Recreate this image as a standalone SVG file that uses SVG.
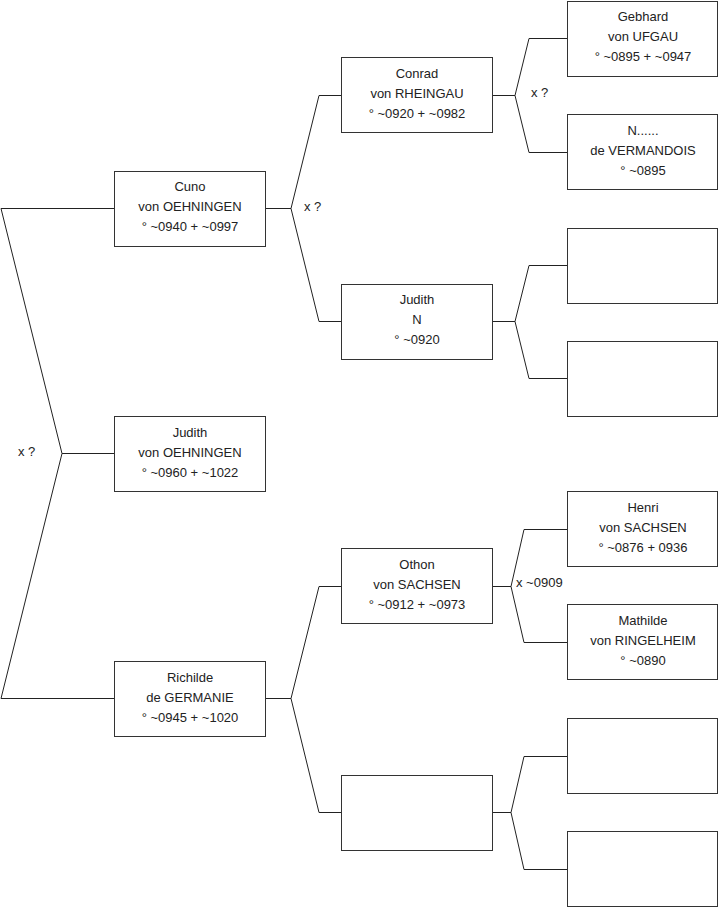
<svg xmlns="http://www.w3.org/2000/svg" width="719" height="908" viewBox="0 0 719 908">
<style>
.box{fill:#fff;stroke:#333;stroke-width:1}
.ln{fill:none;stroke:#222;stroke-width:1}
text{font-family:"Liberation Sans",Arial,sans-serif;font-size:13px;fill:#222}
.c{text-anchor:middle}
</style>
<rect width="719" height="908" fill="#fff"/>
<g id="connectors">
<polyline class="ln" points="114,208.5 1,208.5 62,453.5 1,698.5 114,698.5"/>
<line class="ln" x1="62" y1="453.5" x2="114" y2="453.5"/>
<polyline class="ln" points="265,208.5 291,208.5"/>
<polyline class="ln" points="341,95.5 319,95.5 291,208.5 319,321.5 341,321.5"/>
<polyline class="ln" points="265,698.5 291,698.5"/>
<polyline class="ln" points="341,586.5 319,586.5 291,698.5 319,812.5 341,812.5"/>
<polyline class="ln" points="492,95.5 515,95.5"/>
<polyline class="ln" points="567,38.5 529,38.5 515,95.5 529,152.5 567,152.5"/>
<polyline class="ln" points="492,321.5 515,321.5"/>
<polyline class="ln" points="567,265.5 529,265.5 515,321.5 529,378.5 567,378.5"/>
<polyline class="ln" points="492,586.5 511,586.5"/>
<polyline class="ln" points="567,529.5 524,529.5 511,586.5 524,642.5 567,642.5"/>
<polyline class="ln" points="492,812.5 511,812.5"/>
<polyline class="ln" points="567,756.5 524,756.5 511,812.5 524,869.5 567,869.5"/>
<text x="18" y="456">x ?</text>
<text x="304" y="211">x ?</text>
<text x="531" y="97">x ?</text>
<text x="516" y="587">x ~0909</text>
</g>
<g id="cuno"><rect class="box" x="114.5" y="171.5" width="151" height="75"/>
<text class="c" x="190" y="191">Cuno</text><text class="c" x="190" y="211">von OEHNINGEN</text><text class="c" x="190" y="231">° ~0940 + ~0997</text></g>
<g id="judith1"><rect class="box" x="114.5" y="416.5" width="151" height="75"/>
<text class="c" x="190" y="437">Judith</text><text class="c" x="190" y="457">von OEHNINGEN</text><text class="c" x="190" y="477">° ~0960 + ~1022</text></g>
<g id="richilde"><rect class="box" x="114.5" y="661.5" width="151" height="75"/>
<text class="c" x="190" y="682">Richilde</text><text class="c" x="190" y="702">de GERMANIE</text><text class="c" x="190" y="722">° ~0945 + ~1020</text></g>
<g id="conrad"><rect class="box" x="341.5" y="57.5" width="151" height="75"/>
<text class="c" x="417" y="78">Conrad</text><text class="c" x="417" y="98">von RHEINGAU</text><text class="c" x="417" y="118">° ~0920 + ~0982</text></g>
<g id="judithN"><rect class="box" x="341.5" y="284.5" width="151" height="75"/>
<text class="c" x="417" y="304">Judith</text><text class="c" x="417" y="324">N</text><text class="c" x="417" y="344">° ~0920</text></g>
<g id="othon"><rect class="box" x="341.5" y="548.5" width="151" height="75"/>
<text class="c" x="417" y="569">Othon</text><text class="c" x="417" y="589">von SACHSEN</text><text class="c" x="417" y="609">° ~0912 + ~0973</text></g>
<g id="empty2"><rect class="box" x="341.5" y="775.5" width="151" height="75"/></g>
<g id="gebhard"><rect class="box" x="567.5" y="1.5" width="150" height="75"/>
<text class="c" x="643" y="21">Gebhard</text><text class="c" x="643" y="41">von UFGAU</text><text class="c" x="643" y="61">° ~0895 + ~0947</text></g>
<g id="nvermandois"><rect class="box" x="567.5" y="114.5" width="150" height="75"/>
<text class="c" x="643" y="135">N......</text><text class="c" x="643" y="155">de VERMANDOIS</text><text class="c" x="643" y="175">° ~0895</text></g>
<g id="empty3a"><rect class="box" x="567.5" y="228.5" width="150" height="75"/></g>
<g id="empty3b"><rect class="box" x="567.5" y="341.5" width="150" height="75"/></g>
<g id="henri"><rect class="box" x="567.5" y="491.5" width="150" height="75"/>
<text class="c" x="643" y="512">Henri</text><text class="c" x="643" y="532">von SACHSEN</text><text class="c" x="643" y="552">° ~0876 + 0936</text></g>
<g id="mathilde"><rect class="box" x="567.5" y="604.5" width="150" height="75"/>
<text class="c" x="643" y="625">Mathilde</text><text class="c" x="643" y="645">von RINGELHEIM</text><text class="c" x="643" y="665">° ~0890</text></g>
<g id="empty3c"><rect class="box" x="567.5" y="718.5" width="150" height="75"/></g>
<g id="empty3d"><rect class="box" x="567.5" y="831.5" width="150" height="75"/></g>
</svg>
